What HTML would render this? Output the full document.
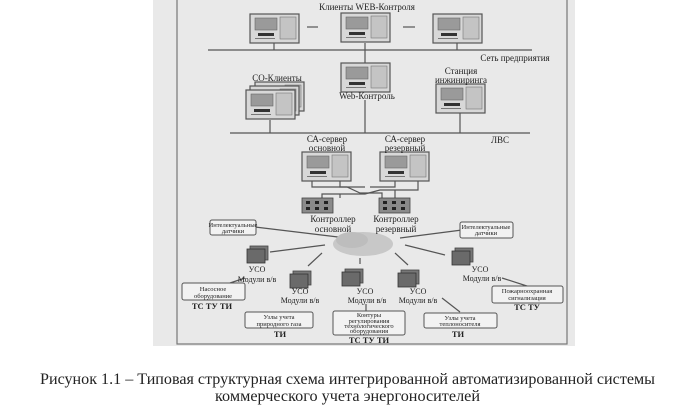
<!DOCTYPE html>
<html><head><meta charset="utf-8"><style>
html,body{margin:0;padding:0;background:#fff;}
svg{display:block;}
text{font-family:"Liberation Serif","DejaVu Serif",serif;fill:#222;}
</style></head><body>
<svg width="695" height="415" viewBox="0 0 695 415" xmlns="http://www.w3.org/2000/svg">
<defs>
<g id="pc">
<rect x="0" y="0" width="49" height="29" fill="#d8d8d8" stroke="#555" stroke-width="1.2"/>
<rect x="5" y="4" width="22" height="12" fill="#9a9a9a" stroke="#666" stroke-width="0.6"/>
<rect x="30" y="3" width="16" height="22" fill="#c4c4c4" stroke="#777" stroke-width="0.6"/>
<rect x="8" y="19" width="16" height="3" fill="#333"/>
<rect x="5" y="24" width="20" height="1" fill="#777"/>
</g>
<g id="mod">
<rect x="3" y="0" width="18" height="14" fill="#777" stroke="#444" stroke-width="0.8"/>
<rect x="0" y="3" width="18" height="14" fill="#6a6a6a" stroke="#333" stroke-width="0.8"/>
</g>
<g id="ctl">
<rect x="0" y="0" width="31" height="15" fill="#8a8a8a" stroke="#444" stroke-width="0.8"/>
<rect x="4" y="3" width="4" height="3" fill="#222"/><rect x="13" y="3" width="4" height="3" fill="#222"/><rect x="22" y="3" width="4" height="3" fill="#222"/>
<rect x="4" y="9" width="4" height="3" fill="#222"/><rect x="13" y="9" width="4" height="3" fill="#222"/><rect x="22" y="9" width="4" height="3" fill="#222"/>
</g>
</defs>
<rect x="153" y="0" width="422" height="346" fill="#e9e9e9"/>
<rect x="177" y="-2" width="390" height="346" fill="none" stroke="#777" stroke-width="1.2"/>

<g stroke="#555" stroke-width="1.2" fill="none">
<line x1="208" y1="50" x2="532" y2="50"/>
<line x1="274" y1="43" x2="274" y2="50"/><line x1="365" y1="43" x2="365" y2="50"/><line x1="457" y1="43" x2="457" y2="50"/>
<line x1="365" y1="50" x2="365" y2="63"/>
<line x1="307" y1="27" x2="318" y2="27"/><line x1="403" y1="27" x2="415" y2="27"/>
<line x1="230" y1="133" x2="530" y2="133"/>
<line x1="365" y1="100" x2="365" y2="133"/><line x1="270" y1="120" x2="270" y2="133"/><line x1="460" y1="113" x2="460" y2="133"/>
<path d="M312 180 V187 H347 L360 193 H382 V198"/>
<path d="M340 180 V187 H365 M370 187 H395 V180"/>
<path d="M418 180 V190 H380 L365 194 H322 V198"/>
<line x1="340" y1="194" x2="340" y2="198"/><line x1="395" y1="190" x2="395" y2="198"/>
<line x1="255" y1="227" x2="338" y2="237"/>
<line x1="462" y1="230" x2="400" y2="238"/>
<line x1="270" y1="252" x2="325" y2="245"/>
<line x1="308" y1="266" x2="322" y2="253"/>
<line x1="360" y1="258" x2="360" y2="264"/>
<line x1="395" y1="253" x2="408" y2="265"/>
<line x1="405" y1="245" x2="445" y2="255"/>
<line x1="230" y1="283" x2="245" y2="278"/>
<line x1="366" y1="304" x2="366" y2="311"/>
<line x1="442" y1="298" x2="460" y2="312"/>
<line x1="502" y1="278" x2="530" y2="287"/>
</g>

<use href="#pc" x="250" y="14"/><use href="#pc" x="341" y="13"/><use href="#pc" x="433" y="14"/>
<use href="#pc" x="341" y="63"/>
<use href="#pc" x="255" y="82"/><use href="#pc" x="250" y="86"/><use href="#pc" x="246" y="90"/>
<use href="#pc" x="436" y="84"/>
<use href="#pc" x="302" y="152"/><use href="#pc" x="380" y="152"/>
<use href="#ctl" x="302" y="198"/><use href="#ctl" x="379" y="198"/>

<ellipse cx="363" cy="244" rx="30" ry="12" fill="#c8c8c8"/>
<ellipse cx="352" cy="240" rx="16" ry="8" fill="#bdbdbd"/>

<use href="#mod" x="247" y="246"/><use href="#mod" x="290" y="271"/><use href="#mod" x="342" y="269"/><use href="#mod" x="398" y="270"/><use href="#mod" x="452" y="248"/>

<g fill="#f2f2f2" stroke="#555" stroke-width="1">
<rect x="210" y="220" width="46" height="15" rx="2"/>
<rect x="460" y="222" width="53" height="16" rx="2"/>
<rect x="182" y="283" width="63" height="17" rx="2"/>
<rect x="245" y="312" width="68" height="16" rx="2"/>
<rect x="333" y="311" width="72" height="24" rx="2"/>
<rect x="424" y="313" width="73" height="15" rx="2"/>
<rect x="492" y="286" width="71" height="17" rx="2"/>
</g>

<g font-size="9" text-anchor="middle">
<text x="367" y="10">Клиенты WEB-Контроля</text>
<text x="515" y="61">Сеть предприятия</text>
<text x="277" y="81">СО-Клиенты</text>
<text x="367" y="99">Web-Контроль</text>
<text x="461" y="74">Станция</text>
<text x="461" y="83">инжиниринга</text>
<text x="500" y="143">ЛВС</text>
<text x="327" y="142">СА-сервер</text>
<text x="327" y="151">основной</text>
<text x="405" y="142">СА-сервер</text>
<text x="405" y="151">резервный</text>
<text x="333" y="222">Контроллер</text>
<text x="333" y="232">основной</text>
<text x="396" y="222">Контроллер</text>
<text x="396" y="232">резервный</text>
<g font-size="8">
<text x="257" y="272">УСО</text><text x="257" y="282">Модули в/в</text>
<text x="300" y="294">УСО</text><text x="300" y="303">Модули в/в</text>
<text x="365" y="294">УСО</text><text x="367" y="303">Модули в/в</text>
<text x="418" y="294">УСО</text><text x="418" y="303">Модули в/в</text>
<text x="480" y="272">УСО</text><text x="482" y="281">Модули в/в</text>
</g>
<g font-size="6.5">
<text x="233" y="227">Интелектуальные</text><text x="233" y="233">датчики</text>
<text x="486" y="229">Интелектуальные</text><text x="486" y="235">датчики</text>
<text x="213" y="291">Насосное</text><text x="213" y="298">оборудование</text>
<text x="279" y="319">Узлы учета</text><text x="279" y="326">природного газа</text>
<text x="369" y="317">Контуры</text><text x="369" y="323">регулирования</text><text x="369" y="328">технологического</text><text x="369" y="333">оборудования</text>
<text x="460" y="320">Узлы учета</text><text x="460" y="326">теплоносителя</text>
<text x="527" y="293">Пожарноохранная</text><text x="527" y="300">сигнализация</text>
</g>
<g font-size="8.5" font-weight="bold">
<text x="212" y="309">ТС ТУ ТИ</text>
<text x="280" y="337">ТИ</text>
<text x="369" y="343">ТС ТУ ТИ</text>
<text x="458" y="337">ТИ</text>
<text x="527" y="310">ТС ТУ</text>
</g>
</g>
<g font-size="16">
<text x="40" y="384" textLength="615" lengthAdjust="spacingAndGlyphs">Рисунок 1.1 – Типовая структурная схема интегрированной автоматизированной системы</text>
<text x="215" y="401" textLength="265" lengthAdjust="spacingAndGlyphs">коммерческого учета энергоносителей</text>
</g>
</svg>
</body></html>
